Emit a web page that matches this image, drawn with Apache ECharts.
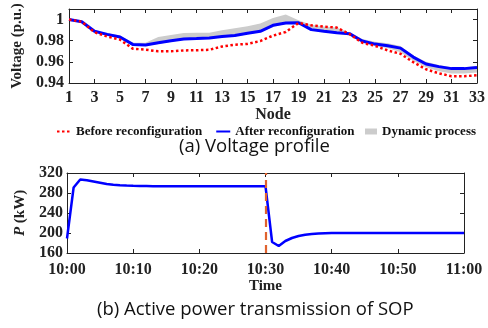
<!DOCTYPE html>
<html>
<head>
<meta charset="utf-8">
<script src="https://cdn.jsdelivr.net/npm/echarts@6/dist/echarts.min.js"></script>
<style>
  html, body { margin: 0; padding: 0; background: #fff; }
  #chart { width: 488px; height: 328px; }
</style>
</head>
<body>
<div id="chart"></div>
<script>
// (a) voltage profile, 33 nodes
const nodes = ['1', '2', '3', '4', '5', '6', '7', '8', '9', '10', '11', '12', '13', '14', '15', '16', '17',
  '18', '19', '20', '21', '22', '23', '24', '25', '26', '27', '28', '29', '30', '31', '32', '33']
const voltBefore = [1.000, 0.998, 0.988, 0.984, 0.981, 0.9725, 0.9715, 0.970, 0.970, 0.9708, 0.971, 0.9714, 0.9745,
  0.9762, 0.977, 0.9797, 0.9848, 0.9883, 0.9968, 0.9946, 0.9933, 0.9924, 0.9864, 0.978, 0.9752, 0.9708, 0.9676,
  0.9597, 0.953, 0.9492, 0.9464, 0.9464, 0.9473]
const voltAfter = [1.000, 0.998, 0.989, 0.986, 0.9835, 0.9765, 0.976, 0.978, 0.980, 0.9816, 0.982, 0.9826, 0.984,
  0.985, 0.987, 0.9889, 0.9946, 0.9968, 0.997, 0.9905, 0.9889, 0.9876, 0.9867, 0.9797, 0.9768, 0.9752, 0.973,
  0.9645, 0.958, 0.9555, 0.9536, 0.9536, 0.9546]
const dynLow = [0.999, 0.997, 0.988, 0.985, 0.982, 0.975, 0.975, 0.977, 0.979, 0.981, 0.981, 0.982, 0.983,
  0.984, 0.986, 0.988, 0.993, 0.996, 0.996, 0.990, 0.988, 0.987, 0.985, 0.978, 0.975, 0.973, 0.969,
  0.961, 0.955, 0.951, 0.949, 0.949, 0.950]
const dynHigh = [1.001, 0.999, 0.990, 0.987, 0.985, 0.978, 0.978, 0.9835, 0.9854, 0.9873, 0.9876, 0.9876, 0.9898,
  0.9917, 0.9936, 0.9962, 1.0016, 1.0048, 0.9993, 0.9952, 0.9935, 0.9926, 0.9875, 0.9816, 0.979, 0.9775, 0.975,
  0.966, 0.960, 0.957, 0.955, 0.955, 0.956]

// (b) SOP active power, one sample per minute from 10:00
const minutes = [0, 1, 2, 3, 4, 5, 6, 7, 8, 9, 10, 11, 12, 13, 14, 15, 16, 17, 18, 19, 20, 21, 22, 23, 24, 25, 26, 27, 28, 29,
  30, 31, 32, 33, 34, 35, 36, 37, 38, 39, 40, 41, 42, 43, 44, 45, 46, 47, 48, 49, 50, 51, 52, 53, 54, 55, 56, 57, 58, 59, 60]
const powerKW = [189, 291, 307, 305.5, 303, 300.5, 298, 296.5, 295.5, 294.8, 294.3, 294, 293.8, 293.6, 293.5, 293.5,
  293.5, 293.5, 293.5, 293.5, 293.5, 293.5, 293.5, 293.5, 293.5, 293.5, 293.5, 293.5, 293.5, 293.5, 293.5,
  182, 174, 184, 190, 194, 196.5, 198, 199, 199.5, 199.8, 199.8, 199.8, 199.8, 199.8, 199.8, 199.8, 199.8, 199.8,
  199.8, 199.8, 199.8, 199.8, 199.8, 199.8, 199.8, 199.8, 199.8, 199.8, 199.8, 199.8]
const timeLabels = ['10:00', '10:10', '10:20', '10:30', '10:40', '10:50', '11:00']
const switchMinute = 30

const serif = 'Liberation Serif'
const axisCol = '#222'

const bandSpan = dynHigh.map((v, i) => +(v - dynLow[i]).toFixed(4))
const powerData = minutes.map((m, i) => [m, powerKW[i]])

function boxAxis (extra) {
  return Object.assign({
    axisLine: { show: true, onZero: false, lineStyle: { color: axisCol, width: 1 } },
    axisTick: { show: true, inside: true, length: 4, lineStyle: { color: axisCol } },
    splitLine: { show: false }
  }, extra)
}

const legendText = { fontFamily: serif, fontWeight: 'bold', fontSize: 13, color: '#111' }

const chart = echarts.init(document.getElementById('chart'))
const option = {
  animation: false,
  textStyle: { fontFamily: serif },
  grid: [
    { left: 69, top: 9, width: 409, height: 74 },
    { left: 67, top: 173, width: 397, height: 80 }
  ],
  legend: [{
    top: 120,
    left: 51,
    itemWidth: 14,
    itemHeight: 10,
    itemGap: 13,
    textStyle: legendText,
    data: [
      // hide the round marker that line legends draw by default
      { name: 'Before reconfiguration', itemStyle: { opacity: 0 } },
      { name: 'After reconfiguration', itemStyle: { opacity: 0 } }
    ]
  }, {
    top: 120,
    left: 360,
    itemWidth: 12,
    itemHeight: 6,
    textStyle: legendText,
    data: [{ name: 'Dynamic process', icon: 'rect' }]
  }],
  xAxis: [
    boxAxis({
      gridIndex: 0,
      type: 'category',
      data: nodes,
      boundaryGap: false,
      name: 'Node',
      nameLocation: 'middle',
      nameGap: 19,
      nameTextStyle: { fontFamily: serif, fontWeight: 'bold', fontSize: 16, color: '#222' },
      axisTick: { show: true, inside: true, length: 4, interval: 1, lineStyle: { color: axisCol } },
      axisLabel: { interval: 1, margin: 7, fontFamily: serif, fontWeight: 'bold', fontSize: 16, color: '#222' }
    }),
    boxAxis({
      gridIndex: 0,
      type: 'category',
      data: nodes,
      boundaryGap: false,
      position: 'top',
      axisTick: { show: true, inside: true, length: 4, interval: 1, lineStyle: { color: axisCol } },
      axisLabel: { show: false }
    }),
    boxAxis({
      gridIndex: 1,
      type: 'value',
      min: 0,
      max: 60,
      interval: 10,
      name: 'Time',
      nameLocation: 'middle',
      nameGap: 25,
      nameTextStyle: { fontFamily: serif, fontWeight: 'bold', fontSize: 15, color: '#222' },
      axisLabel: {
        margin: 9,
        fontFamily: serif,
        fontWeight: 'bold',
        fontSize: 16,
        color: '#222',
        formatter: v => timeLabels[Math.round(v / 10)]
      }
    }),
    boxAxis({
      gridIndex: 1,
      type: 'value',
      min: 0,
      max: 60,
      interval: 10,
      position: 'top',
      axisLabel: { show: false }
    })
  ],
  yAxis: [
    boxAxis({
      gridIndex: 0,
      type: 'value',
      min: 0.94,
      max: 1.01,
      interval: 0.02,
      name: 'Voltage (p.u.)',
      nameLocation: 'middle',
      nameGap: 39,
      nameTextStyle: { fontFamily: serif, fontWeight: 'bold', fontSize: 15, color: '#222' },
      axisLabel: {
        margin: 5,
        showMaxLabel: false,
        fontFamily: serif,
        fontWeight: 'bold',
        fontSize: 16,
        color: '#222',
        formatter: v => (Math.abs(v - 1) < 1e-6 ? '1' : v.toFixed(2))
      }
    }),
    boxAxis({
      gridIndex: 0,
      type: 'value',
      min: 0.94,
      max: 1.01,
      interval: 0.02,
      position: 'right',
      axisLabel: { show: false }
    }),
    boxAxis({
      gridIndex: 1,
      type: 'value',
      min: 160,
      max: 320,
      interval: 40,
      name: '{i|P} (kW)',
      nameLocation: 'middle',
      nameGap: 31,
      nameTextStyle: {
        fontFamily: serif,
        fontWeight: 'bold',
        fontSize: 15,
        color: '#222',
        rich: { i: { fontFamily: serif, fontWeight: 'bold', fontStyle: 'italic', fontSize: 15, color: '#222' } }
      },
      axisLabel: { margin: 4, fontFamily: serif, fontWeight: 'bold', fontSize: 16, color: '#222' }
    }),
    boxAxis({
      gridIndex: 1,
      type: 'value',
      min: 160,
      max: 320,
      interval: 40,
      position: 'right',
      axisLabel: { show: false }
    })
  ],
  series: [
    {
      // lower edge of the dynamic band (hidden)
      name: 'dynBase',
      type: 'line',
      xAxisIndex: 0,
      yAxisIndex: 0,
      stack: 'dyn',
      data: dynLow,
      symbol: 'none',
      lineStyle: { width: 0 },
      z: 1
    },
    {
      name: 'Dynamic process',
      type: 'line',
      xAxisIndex: 0,
      yAxisIndex: 0,
      stack: 'dyn',
      data: bandSpan,
      symbol: 'none',
      itemStyle: { color: '#cccccc' },
      lineStyle: { width: 0 },
      areaStyle: { color: '#cccccc', opacity: 1 },
      z: 2
    },
    {
      name: 'Before reconfiguration',
      type: 'line',
      xAxisIndex: 0,
      yAxisIndex: 0,
      data: voltBefore,
      symbol: 'none',
      itemStyle: { color: '#ff0000' },
      lineStyle: { color: '#ff0000', width: 2.5, type: [2.5, 2.5] },
      z: 4
    },
    {
      name: 'After reconfiguration',
      type: 'line',
      xAxisIndex: 0,
      yAxisIndex: 0,
      data: voltAfter,
      symbol: 'none',
      itemStyle: { color: '#0000ff' },
      lineStyle: { color: '#0000ff', width: 3 },
      z: 3
    },
    {
      name: 'SOP power',
      type: 'line',
      xAxisIndex: 2,
      yAxisIndex: 2,
      data: powerData,
      symbol: 'none',
      lineStyle: { color: '#0000ff', width: 2.5 },
      markLine: {
        silent: true,
        symbol: 'none',
        label: { show: false },
        lineStyle: { color: '#e0622e', type: [8, 5], width: 2.2 },
        data: [{ xAxis: switchMinute }]
      },
      z: 3
    }
  ],
  graphic: [
    {
      type: 'text',
      left: 179,
      top: 137,
      style: { text: '(a) Voltage profile', fontFamily: 'Open Sans', fontSize: 18.5, fill: '#111' }
    },
    {
      type: 'text',
      left: 97,
      top: 300,
      style: { text: '(b) Active power transmission of SOP', fontFamily: 'Open Sans', fontSize: 18.5, fill: '#111' }
    }
  ]
}
chart.setOption(option)
</script>
</body>
</html>
